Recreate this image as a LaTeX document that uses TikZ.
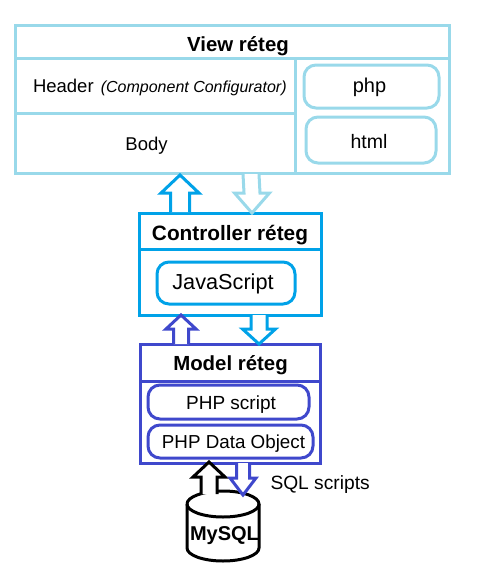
\documentclass[tikz,border=0pt]{standalone}
\usepackage{fontspec}
\setmainfont{Liberation Sans}
\usetikzlibrary{calc}
\definecolor{lightc}{HTML}{99D9EA}
\definecolor{cyanc}{HTML}{00A2E8}
\definecolor{purpc}{HTML}{3F48CC}
\newcommand{\fs}[1]{\fontsize{#1}{#1}\selectfont}
\tikzset{
  cell/.style={draw=#1,line width=3pt,inner sep=0pt,outer sep=0pt,rectangle,align=center,text=black},
  pill/.style={draw=#1,line width=3pt,inner sep=0pt,outer sep=0pt,rectangle,rounded corners=12pt,text=black},
  blockarrow/.style={draw=#1,line width=3pt,fill=white,line join=miter,miter limit=4},
  lbl/.style={text=black,inner sep=0pt,outer sep=0pt}
}
% from, to, shaft half-width, head half-width, head length
\newcommand{\blockarr}[6]{%
  \draw[blockarrow=#1]
    ($(#2)+(-#4,0)$) -- ($(#3)+(-#4,#6)$) -- ($(#3)+(-#5,#6)$) -- (#3)
    -- ($(#3)+(#5,#6)$) -- ($(#3)+(#4,#6)$) -- ($(#2)+(#4,0)$);}
\newcommand{\blockarrdown}[6]{%
  \draw[blockarrow=#1]
    ($(#2)+(-#4,0)$) -- ($(#3)+(-#4,-#6)$) -- ($(#3)+(-#5,-#6)$) -- (#3)
    -- ($(#3)+(#5,-#6)$) -- ($(#3)+(#4,-#6)$) -- ($(#2)+(#4,0)$);}
\begin{document}
\begin{tikzpicture}[x=1pt,y=-1pt]
\useasboundingbox (0,0) rectangle (502,571);
% View layer
\node[cell=lightc,minimum width=434pt,minimum height=33pt] (vt) at (232,41.5) {};
\node[lbl,font=\fs{20.4}\bfseries] (vttext) at (238,46) {View réteg};
\node[cell=lightc,minimum width=280pt,minimum height=55pt] (vh) at (155,85.5) {};
\node[lbl,anchor=base west,font=\fs{18.5}] (vhtext) at (33,92) {Header\hspace{2pt} {\fs{16}\itshape(Component Configurator)}};
\node[cell=lightc,minimum width=280pt,minimum height=60pt] (vb) at (155,143) {};
\node[lbl,font=\fs{18.5}] (body) at (146.5,146) {Body};
\node[cell=lightc,minimum width=154pt,minimum height=115pt] (vs) at (372,115.5) {};
\node[pill=lightc,minimum width=135pt,minimum height=43pt] (php) at (371.5,86.5) {};
\node[lbl,font=\fs{20}] (phptext) at (369.5,87) {php};
\node[pill=lightc,minimum width=130pt,minimum height=46pt] (html) at (371,140) {};
\node[lbl,font=\fs{19.5}] (htmltext) at (369,141.5) {html};
% Controller layer
\node[cell=cyanc,minimum width=182pt,minimum height=36pt] (ct) at (230,231) {};
\node[lbl,font=\fs{20.8}\bfseries] (cttext) at (230,235) {Controller réteg};
\node[cell=cyanc,minimum width=182pt,minimum height=66pt] (cb) at (230,282) {};
\node[pill=cyanc,minimum width=138pt,minimum height=42pt] (js) at (226,283) {};
\node[lbl,font=\fs{21.7}] (jstext) at (223,284) {JavaScript};
% Model layer
\node[cell=purpc,minimum width=180pt,minimum height=37pt] (mt) at (230,362.5) {};
\node[lbl,font=\fs{20.4}\bfseries] (mttext) at (230.5,365.5) {Model réteg};
\node[cell=purpc,minimum width=180pt,minimum height=82pt] (mb) at (230,422) {};
\node[pill=purpc,minimum width=161pt,minimum height=34pt] (pscript) at (228.5,402) {};
\node[lbl,font=\fs{19}] (pstext) at (231,405) {PHP script};
\node[pill=purpc,minimum width=165pt,minimum height=33pt] (pdo) at (230.5,441.5) {};
\node[lbl,font=\fs{18.8}] (pdotext) at (233.5,444) {PHP Data Object};
% Database
\coordinate (dbtl) at (187,504);
\coordinate (dbtr) at (259,504);
\coordinate (dbbl) at (187,548);
\coordinate (dbbr) at (259,548);
\draw[black,line width=3pt,fill=white] (dbtl) arc[start angle=180,end angle=540,x radius=36,y radius=13];
\draw[black,line width=3pt] (dbtl) -- (dbbl) arc[start angle=180,end angle=360,x radius=36,y radius=-13] -- (dbtr);
\node[lbl,font=\fs{20}\bfseries] (mysql) at (224.5,536) {MySQL};
% Block arrows
\coordinate (a1s) at (180,212); \coordinate (a1e) at (180,175);
\coordinate (a2s) at (251,174); \coordinate (a2e) at (252,213);
\coordinate (a3s) at (181,344); \coordinate (a3e) at (181,315);
\coordinate (a4s) at (259,315); \coordinate (a4e) at (259,344);
\coordinate (a5s) at (209,494); \coordinate (a5e) at (209,462);
\coordinate (a6s) at (243,463); \coordinate (a6e) at (243,495);
\blockarr{cyanc}{a1s}{a1e}{9.5}{19}{18}
\blockarrdown{lightc}{a2s}{a2e}{8}{17.5}{20}
\blockarr{purpc}{a3s}{a3e}{7.5}{15}{14}
\blockarrdown{cyanc}{a4s}{a4e}{8}{16.5}{15}
\blockarr{black}{a5s}{a5e}{8}{16}{15}
\blockarrdown{purpc}{a6s}{a6e}{6.5}{13}{17}
\node[lbl,anchor=base west,font=\fs{19.2}] (sql) at (270.5,489) {SQL scripts};
\end{tikzpicture}
\end{document}
